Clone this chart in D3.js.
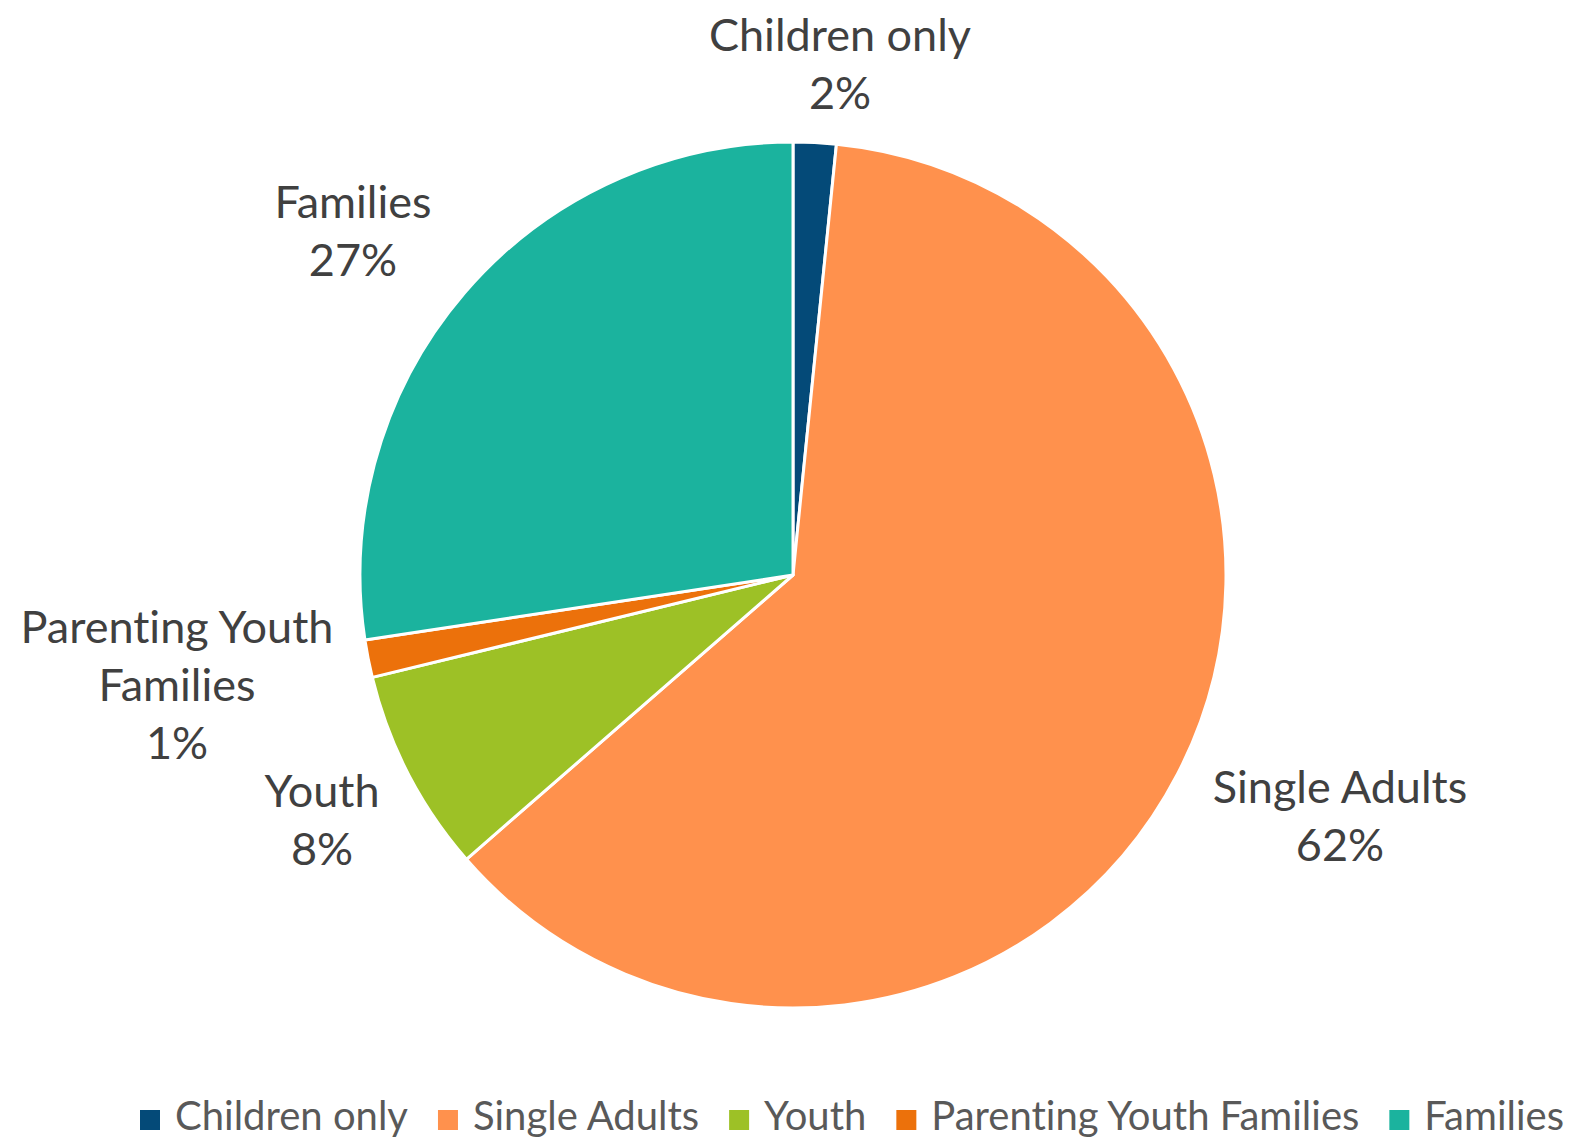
<!DOCTYPE html>
<html>
<head>
<meta charset="utf-8">
<script src="https://cdn.jsdelivr.net/npm/d3@7/dist/d3.min.js"></script>
<style>
  html, body { margin: 0; padding: 0; background: #ffffff; }
  svg { display: block; }
  text { font-family: Lato, "Open Sans", sans-serif; fill: #404040; font-variant-ligatures: none; }
</style>
</head>
<body>
<svg id="chart" width="1581" height="1142"></svg>
<script>
// Share of people by household type (percent)
const categories = ["Children only", "Single Adults", "Youth", "Parenting Youth Families", "Families"];
const shares = [1.6, 62.0, 7.6, 1.4, 27.4];
const colors = ["#044a78", "#ff914d", "#9dc126", "#ec710b", "#1bb39e"];

// Data label lines and anchor positions for each slice
const labelLines = [["Children only"], ["Single Adults"], ["Youth"], ["Parenting Youth", "Families"], ["Families"]];
const labelPos = [[840, 51], [1340, 803], [322, 807], [177, 643], [353, 218]];

const cx = 793, cy = 575, R = 433;
const lineH = 58;

const svg = d3.select("#chart");
const data = categories.map((c, i) => ({ name: c, value: shares[i], color: colors[i], lines: labelLines[i], pos: labelPos[i] }));

const pie = d3.pie().sort(null).value(d => d.value);
const arc = d3.arc().innerRadius(0).outerRadius(R);
const total = d3.sum(shares);

const g = svg.append("g").attr("transform", `translate(${cx},${cy})`);
g.selectAll("path")
  .data(pie(data))
  .join("path")
  .attr("d", arc)
  .attr("fill", d => d.data.color)
  .attr("stroke", "#ffffff")
  .attr("stroke-width", 3)
  .attr("stroke-linejoin", "round");

// Data labels: category name plus rounded percentage
const labels = svg.append("g").selectAll("text")
  .data(data)
  .join("text")
  .attr("text-anchor", "middle")
  .attr("font-size", 45)
  .attr("x", d => d.pos[0])
  .attr("y", d => d.pos[1]);

labels.each(function (d) {
  const t = d3.select(this);
  const lines = d.lines.concat([Math.round(d.value / total * 100) + "%"]);
  lines.forEach((ln, i) => {
    t.append("tspan").attr("x", d.pos[0]).attr("dy", i === 0 ? 0 : lineH).text(ln);
  });
});

// Legend along the bottom
const legend = svg.append("g").attr("transform", "translate(140,1130)");
const sq = 20, gapText = 15, gapItem = 30;
let x = 0;
data.forEach(d => {
  const item = legend.append("g").attr("transform", `translate(${x},0)`);
  item.append("rect").attr("x", 0).attr("y", -sq).attr("width", sq).attr("height", sq).attr("fill", d.color);
  const t = item.append("text")
    .attr("font-size", 40)
    .attr("x", sq + gapText)
    .style("fill", "#595959")
    .text(d.name);
  const w = t.node().getComputedTextLength();
  x += sq + gapText + w + gapItem;
});
</script>
</body>
</html>
